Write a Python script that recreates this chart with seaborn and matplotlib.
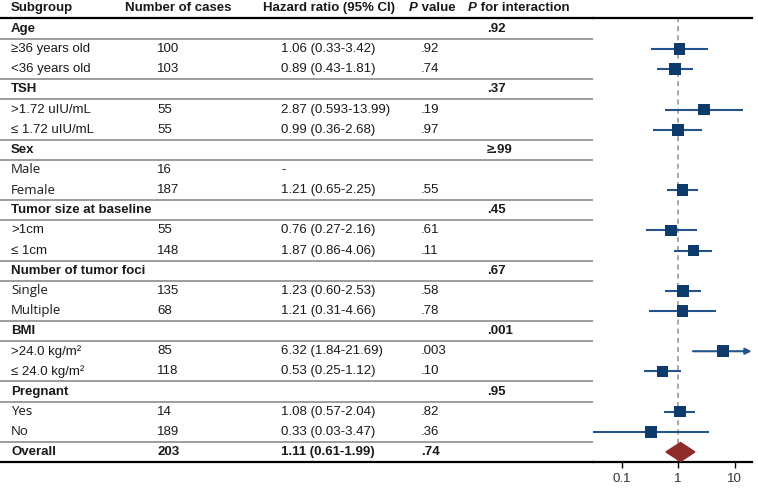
import numpy as np
import pandas as pd
import seaborn as sns
import matplotlib.pyplot as plt
from matplotlib.patches import Polygon

# table rows, top to bottom
subgroups = ["Age", "≥36 years old", "<36 years old",
             "TSH", ">1.72 uIU/mL", "≤ 1.72 uIU/mL",
             "Sex", "Male", "Female",
             "Tumor size at baseline", ">1cm", "≤ 1cm",
             "Number of tumor foci", "Single", "Multiple",
             "BMI", ">24.0 kg/m²", "≤ 24.0 kg/m²",
             "Pregnant", "Yes", "No",
             "Overall"]
group_rows = [0, 3, 6, 9, 12, 15, 18]
cases = ["", "100", "103", "", "55", "55", "", "16", "187", "", "55", "148",
         "", "135", "68", "", "85", "118", "", "14", "189", "203"]
hr_text = ["", "1.06 (0.33-3.42)", "0.89 (0.43-1.81)",
           "", "2.87 (0.593-13.99)", "0.99 (0.36-2.68)",
           "", "-", "1.21 (0.65-2.25)",
           "", "0.76 (0.27-2.16)", "1.87 (0.86-4.06)",
           "", "1.23 (0.60-2.53)", "1.21 (0.31-4.66)",
           "", "6.32 (1.84-21.69)", "0.53 (0.25-1.12)",
           "", "1.08 (0.57-2.04)", "0.33 (0.03-3.47)",
           "1.11 (0.61-1.99)"]
p_value = ["", ".92", ".74", "", ".19", ".97", "", "", ".55", "", ".61", ".11",
           "", ".58", ".78", "", ".003", ".10", "", ".82", ".36", ".74"]
p_interaction = [".92", "", "", ".37", "", "", "≥.99", "", "", ".45", "", "",
                 ".67", "", "", ".001", "", "", ".95", "", "", ""]

nan = np.nan
hr = [nan, 1.06, 0.89, nan, 2.87, 0.99, nan, nan, 1.21, nan, 0.76, 1.87,
      nan, 1.23, 1.21, nan, 6.32, 0.53, nan, 1.08, 0.33, 1.11]
ci_low = [nan, 0.33, 0.43, nan, 0.593, 0.36, nan, nan, 0.65, nan, 0.27, 0.86,
          nan, 0.60, 0.31, nan, 1.84, 0.25, nan, 0.57, 0.03, 0.61]
ci_high = [nan, 3.42, 1.81, nan, 13.99, 2.68, nan, nan, 2.25, nan, 2.16, 4.06,
           nan, 2.53, 4.66, nan, 21.69, 1.12, nan, 2.04, 3.47, 1.99]

sns.set_style("white")
plt.rcParams['font.family'] = ['Liberation Sans', 'DejaVu Sans']

navy = "#0e3a6c"
line_navy = "#23548c"
txt = "#1a1a1a"
fs = 9.5
# these labels were typeset in a different face in the original
other_face = [7, 8, 13, 14, 19, 20]

W, H = 758, 490
top_px, bot_px, split_px, right_px = 18, 462, 593, 752
row0, step = 29, 20.14


def row_of(px):
    return (px - row0) / step


fig = plt.figure(figsize=(W / 100, H / 100), dpi=100)
ax_t = fig.add_axes([0, 1 - bot_px / H, split_px / W, (bot_px - top_px) / H])
ax_f = fig.add_axes([split_px / W, 1 - bot_px / H, (right_px - split_px) / W, (bot_px - top_px) / H])

for ax in (ax_t, ax_f):
    ax.set_ylim(row_of(bot_px), row_of(top_px))
    for side in ("left", "right"):
        ax.spines[side].set_visible(False)
    for side in ("top", "bottom"):
        ax.spines[side].set_color("black")
        ax.spines[side].set_linewidth(1.6)

# ---- table ----
ax_t.set_xlim(0, split_px)
ax_t.set_xticks([])
ax_t.set_yticks([])

sep_rows = []
for g in group_rows:
    if g > 0:
        sep_rows.append(g - 0.5)
    sep_rows.append(g + 0.5)
sep_rows.append(20.5)
ax_t.hlines(sep_rows, 0, split_px, color="#8c8c8c", lw=1.2)

hy = row_of(8)
ax_t.text(11, hy, "Subgroup", fontweight="bold", fontsize=fs, va="center", color=txt, clip_on=False)
ax_t.text(125, hy, "Number of cases", fontweight="bold", fontsize=fs, va="center", color=txt, clip_on=False)
ax_t.text(263, hy, "Hazard ratio (95% CI)", fontweight="bold", fontsize=fs, va="center", color=txt, clip_on=False)
for x, rest in ((409, " value"), (468, " for interaction")):
    t = ax_t.text(x, hy, "P", fontweight="bold", fontstyle="italic", fontsize=fs, va="center",
                  color=txt, clip_on=False)
    ax_t.annotate(rest, xy=(1, 0), xycoords=t, va="bottom", ha="left",
                  fontweight="bold", fontsize=fs, color=txt, annotation_clip=False)

n = len(subgroups)
for i in range(n):
    bold = i in group_rows or i == n - 1
    w = "bold" if bold else "normal"
    fam = ['Open Sans', 'DejaVu Sans'] if i in other_face else ['Liberation Sans', 'DejaVu Sans']
    ax_t.text(11, i, subgroups[i], fontsize=fs, fontweight=w, va="center", color=txt, family=fam)
    ax_t.text(157, i, cases[i], fontsize=fs, fontweight=w, va="center", color=txt)
    ax_t.text(281, i, hr_text[i], fontsize=fs, fontweight=w, va="center", color=txt)
    ax_t.text(421, i, p_value[i], fontsize=fs, fontweight=w, va="center", color=txt)
    ax_t.text(487, i, p_interaction[i], fontsize=fs, fontweight="bold", va="center", color=txt)

# ---- forest ----
df = pd.DataFrame({"row": range(n), "hr": hr, "lo": ci_low, "hi": ci_high})
est = df.iloc[:-1].dropna()
overall = df.iloc[-1]

xmin, xmax = 0.0313, 20.4
ax_f.set_xscale("log")
ax_f.axvline(1, color="#9a9a9a", ls=(0, (3, 2.5)), lw=1.2, zorder=1)

for _, r in est.iterrows():
    if r["hi"] > xmax:
        ax_f.annotate("", xy=(xmax * 0.985, r["row"]), xytext=(r["lo"], r["row"]),
                      arrowprops=dict(arrowstyle="-|>", color=line_navy, lw=1.5,
                                      mutation_scale=9, shrinkA=0, shrinkB=0), zorder=2)
    else:
        ax_f.hlines(r["row"], r["lo"], r["hi"], color=line_navy, lw=1.5, zorder=2)

sns.scatterplot(data=est, x="hr", y="row", marker="s", s=70, color=navy,
                edgecolor="none", ax=ax_f, zorder=3, legend=False)

r = overall["row"]
ax_f.add_patch(Polygon([(overall["lo"], r), (overall["hr"], r - 0.47),
                        (overall["hi"], r), (overall["hr"], r + 0.47)],
                       closed=True, color="#8e2c2c", zorder=3))

ax_f.set_xlim(xmin, xmax)
ax_f.set_ylim(row_of(bot_px), row_of(top_px))
ax_f.set_xticks([0.1, 1, 10])
ax_f.set_xticklabels(["0.1", "1", "10"])
ax_f.minorticks_off()
ax_f.tick_params(axis="x", direction="out", length=4, width=1, color="black",
                 labelsize=fs, labelcolor="#333333", pad=4, bottom=True)
ax_f.set_yticks([])
ax_f.set_xlabel("")
ax_f.set_ylabel("")

fig.savefig("out.png", dpi=100)
